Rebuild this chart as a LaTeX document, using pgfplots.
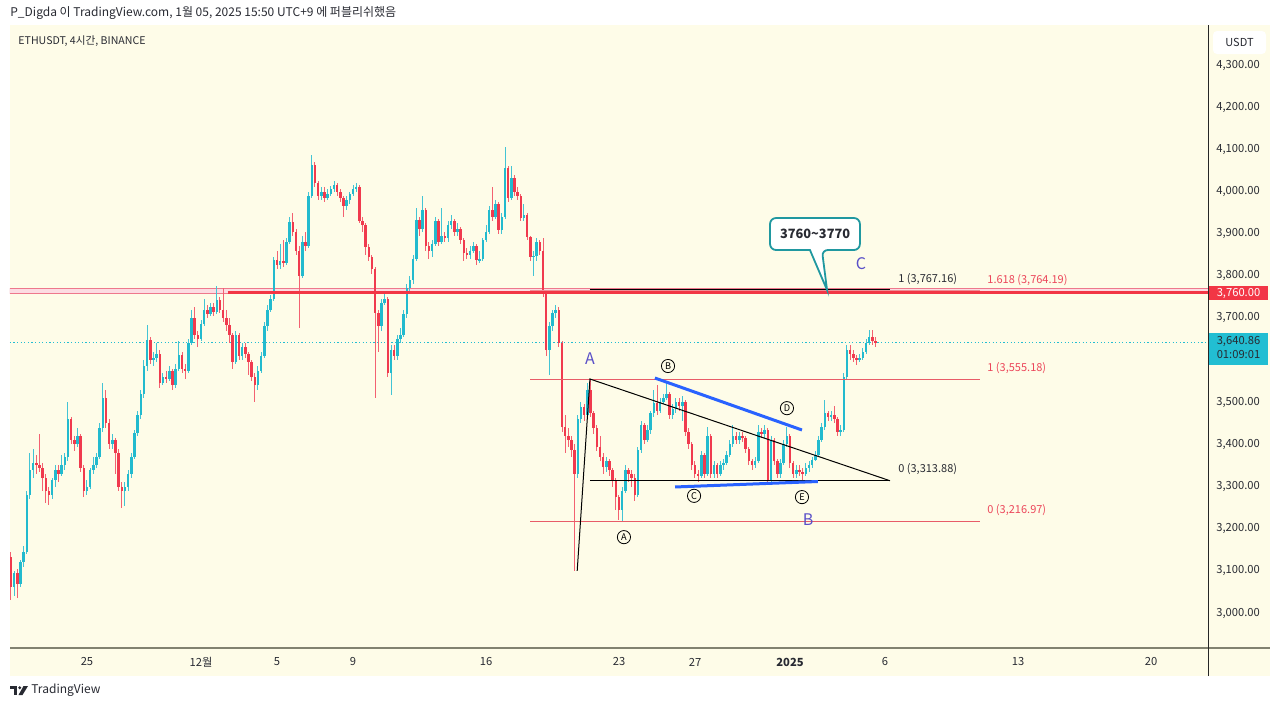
\documentclass[border=0pt]{standalone}
\usepackage{pgfplots}
\pgfplotsset{compat=1.18}
\usepackage{pgfplotstable}
\usepackage{fontspec}
\setmainfont{Noto Sans CJK KR}

\definecolor{bgy}{RGB}{254,252,232}
\definecolor{txt}{RGB}{40,42,50}
\definecolor{upc}{RGB}{34,186,206}
\definecolor{dnc}{RGB}{240,58,78}
\definecolor{redline}{RGB}{242,54,69}
\definecolor{bandline}{RGB}{238,120,140}
\definecolor{bandfill}{RGB}{252,220,226}
\definecolor{fibred}{RGB}{232,92,104}
\definecolor{fibtxt}{RGB}{236,70,90}
\definecolor{tvblue}{RGB}{41,98,255}
\definecolor{wave}{RGB}{90,80,200}
\definecolor{callout}{RGB}{32,152,160}
\definecolor{curbox}{RGB}{34,190,210}
\definecolor{axisgray}{RGB}{130,130,112}

% 4h candles: i = candle number (6 per day), open high low close
\pgfplotstableread{
i o h l c
0 3133 3145 3031 3062
1 3062 3100 3040 3095
2 3095 3105 3035 3070
3 3070 3125 3062 3120
4 3120 3160 3110 3145
5 3145 3290 3140 3280
6 3280 3380 3270 3340
7 3340 3390 3320 3355
8 3355 3375 3330 3350
9 3350 3425 3335 3345
10 3345 3355 3290 3320
11 3320 3330 3260 3290
12 3290 3300 3256 3280
13 3280 3320 3270 3315
14 3315 3350 3300 3340
15 3340 3350 3310 3330
16 3330 3375 3325 3350
17 3350 3380 3340 3370
18 3370 3500 3360 3460
19 3460 3465 3400 3410
20 3410 3420 3385 3400
21 3400 3440 3395 3420
22 3420 3425 3335 3345
23 3345 3350 3275 3290
24 3290 3315 3280 3300
25 3300 3345 3295 3340
26 3340 3370 3330 3350
27 3350 3380 3345 3370
28 3370 3450 3365 3440
29 3440 3545 3430 3510
30 3510 3530 3440 3450
31 3450 3460 3390 3400
32 3400 3425 3390 3410
33 3410 3415 3330 3380
34 3380 3390 3290 3300
35 3300 3310 3250 3290
36 3290 3310 3255 3300
37 3300 3340 3290 3330
38 3330 3380 3320 3370
39 3370 3435 3365 3427
40 3427 3480 3420 3470
41 3470 3530 3460 3520
42 3520 3600 3510 3585
43 3585 3683 3575 3648
44 3648 3655 3590 3600
45 3600 3620 3585 3605
46 3605 3640 3595 3615
47 3615 3625 3535 3545
48 3545 3570 3540 3560
49 3560 3575 3545 3555
50 3555 3585 3550 3575
51 3575 3580 3530 3541
52 3541 3590 3535 3580
53 3580 3645 3575 3612
54 3612 3620 3570 3580
55 3580 3590 3555 3575
56 3575 3650 3570 3640
57 3640 3720 3635 3700
58 3700 3725 3650 3660
59 3660 3670 3630 3650
60 3650 3695 3645 3685
61 3685 3745 3680 3719
62 3719 3730 3700 3710
63 3710 3735 3705 3725
64 3725 3735 3705 3715
65 3715 3775 3710 3743
66 3743 3750 3712 3720
67 3720 3770 3690 3700
68 3700 3720 3670 3683
69 3683 3700 3640 3660
70 3660 3665 3580 3595
71 3595 3670 3590 3660
72 3660 3665 3600 3610
73 3610 3640 3600 3630
74 3630 3640 3605 3615
75 3615 3620 3565 3595
76 3595 3600 3550 3560
77 3560 3570 3500 3540
78 3540 3585 3530 3575
79 3575 3620 3570 3610
80 3610 3690 3605 3680
81 3680 3730 3670 3720
82 3720 3755 3715 3745
83 3745 3845 3740 3837
84 3837 3860 3815 3825
85 3825 3875 3815 3835
86 3835 3885 3820 3830
87 3830 3890 3825 3880
88 3880 3940 3875 3928
89 3928 3950 3895 3905
90 3905 3910 3850 3860
91 3860 3870 3676 3800
92 3800 3895 3795 3880
93 3880 3905 3860 3870
94 3870 4000 3865 3990
95 3990 4087 3985 4063
96 4063 4070 4010 4020
97 4020 4025 3980 3990
98 3990 4010 3980 4000
99 4000 4010 3975 3985
100 3985 4005 3980 3995
101 3995 4012 3990 4005
102 4005 4025 4000 4015
103 4015 4020 3990 4000
104 4000 4005 3975 3985
105 3985 3990 3940 3965
106 3965 3990 3955 3980
107 3980 4000 3970 3995
108 3995 4015 3990 4005
109 4005 4020 3998 4010
110 4010 4015 3925 3930
111 3930 3940 3905 3920
112 3920 3925 3850 3868
113 3868 3875 3835 3845
114 3845 3850 3805 3815
115 3815 3820 3510 3712
116 3712 3720 3620 3680
117 3680 3745 3670 3735
118 3735 3760 3730 3745
119 3745 3750 3560 3569
120 3569 3635 3517 3625
121 3625 3635 3600 3610
122 3610 3660 3600 3650
123 3650 3675 3640 3660
124 3660 3720 3655 3710
125 3710 3780 3700 3770
126 3770 3800 3760 3790
127 3790 3850 3780 3840
128 3840 3960 3835 3932
129 3932 3940 3895 3910
130 3910 3990 3905 3956
131 3956 3960 3860 3870
132 3870 3880 3840 3860
133 3860 3885 3845 3875
134 3875 3940 3870 3930
135 3930 3935 3870 3880
136 3880 3960 3875 3895
137 3895 3905 3880 3890
138 3890 3930 3880 3920
139 3920 3945 3910 3930
140 3930 3935 3895 3905
141 3905 3925 3895 3910
142 3910 3915 3875 3885
143 3885 3890 3835 3854
144 3854 3865 3840 3850
145 3850 3870 3840 3860
146 3860 3880 3855 3870
147 3870 3875 3825 3837
148 3837 3860 3830 3840
149 3840 3890 3835 3885
150 3885 3920 3880 3905
151 3905 3965 3900 3956
152 3956 4010 3930 3940
153 3940 3980 3935 3970
154 3970 3975 3900 3908
155 3908 3950 3900 3940
156 3940 4105 3935 4056
157 4056 4060 3975 3985
158 3985 4060 3980 4032
159 4032 4040 3990 4000
160 4000 4010 3980 3990
161 3990 3995 3930 3937
162 3937 3970 3930 3945
163 3945 3950 3885 3892
164 3892 3895 3835 3845
165 3845 3860 3800 3848
166 3848 3890 3835 3880
167 3880 3885 3850 3860
168 3860 3890 3750 3759
169 3759 3765 3610 3624
170 3624 3690 3565 3680
171 3680 3720 3670 3712
172 3712 3730 3700 3720
173 3720 3725 3630 3640
174 3640 3645 3430 3441
175 3441 3470 3380 3420
176 3420 3440 3395 3410
177 3410 3420 3370 3387
178 3387 3400 3100 3330
179 3330 3470 3320 3460
180 3460 3500 3450 3489
181 3489 3495 3455 3470
182 3470 3545 3465 3530
183 3530 3555 3465 3474
184 3474 3480 3425 3440
185 3440 3445 3385 3394
186 3394 3420 3360 3370
187 3370 3380 3330 3346
188 3346 3370 3335 3360
189 3360 3365 3325 3340
190 3340 3345 3300 3316
191 3316 3320 3245 3275
192 3275 3280 3221 3245
193 3245 3300 3217 3290
194 3290 3350 3285 3339
195 3339 3345 3310 3330
196 3330 3340 3300 3320
197 3320 3330 3265 3280
198 3280 3395 3275 3387
199 3387 3455 3380 3446
200 3446 3450 3400 3410
201 3410 3445 3405 3434
202 3434 3480 3425 3474
203 3474 3530 3465 3498
204 3498 3541 3470 3480
205 3480 3510 3475 3500
206 3500 3520 3495 3510
207 3510 3545 3505 3520
208 3520 3525 3460 3470
209 3470 3495 3460 3485
210 3485 3510 3475 3500
211 3500 3510 3480 3490
212 3490 3515 3455 3500
213 3500 3505 3420 3430
214 3430 3440 3390 3400
215 3400 3405 3340 3350
216 3350 3360 3320 3330
217 3330 3340 3311 3325
218 3325 3385 3320 3375
219 3375 3380 3320 3330
220 3330 3441 3325 3420
221 3420 3425 3320 3330
222 3330 3360 3320 3350
223 3350 3355 3320 3330
224 3330 3360 3325 3350
225 3350 3365 3340 3355
226 3355 3385 3350 3375
227 3375 3410 3370 3400
228 3400 3445 3395 3420
229 3420 3430 3400 3410
230 3410 3430 3400 3420
231 3420 3430 3405 3415
232 3415 3420 3380 3390
233 3390 3395 3350 3360
234 3360 3365 3340 3350
235 3350 3370 3345 3360
236 3360 3445 3355 3430
237 3430 3440 3415 3425
238 3425 3445 3415 3435
239 3435 3440 3310 3316
240 3316 3420 3312 3410
241 3410 3415 3350 3360
242 3360 3365 3320 3330
243 3330 3365 3320 3355
244 3355 3410 3350 3400
245 3400 3441 3395 3420
246 3420 3425 3345 3356
247 3356 3360 3320 3330
248 3330 3350 3320 3340
249 3340 3350 3325 3335
250 3335 3345 3311 3330
251 3330 3355 3325 3345
252 3345 3360 3335 3350
253 3350 3370 3345 3363
254 3363 3385 3360 3375
255 3375 3420 3370 3410
256 3410 3450 3405 3441
257 3441 3505 3435 3474
258 3474 3480 3455 3465
259 3465 3480 3455 3470
260 3470 3490 3450 3460
261 3460 3465 3420 3430
262 3430 3445 3420 3434
263 3434 3570 3430 3560
264 3560 3635 3555 3624
265 3624 3635 3600 3615
266 3615 3625 3595 3605
267 3605 3612 3588 3600
268 3600 3615 3595 3605
269 3605 3628 3600 3620
270 3620 3650 3615 3640
271 3640 3671 3635 3655
272 3655 3672 3635 3645
273 3645 3655 3630 3640.86
}\candles

\pgfplotsset{
  candle/.style 2 args={draw=none, mark=none, forget plot,
    /pgfplots/error bars/y dir=both,
    /pgfplots/error bars/y explicit,
    /pgfplots/error bars/error mark=none,
    /pgfplots/error bars/error bar style={line width=#2, draw=#1, solid}},
  isup/.style={x filter/.expression={\thisrow{c}<\thisrow{o} ? nan : x}},
  isdown/.style={x filter/.expression={\thisrow{c}<\thisrow{o} ? x : nan}},
}
\tikzset{
  wavecircle/.style={circle, draw=black, line width=0.4pt, inner sep=0pt,
    minimum size=6.6pt, font=\fontsize{4.6}{4.6}\selectfont},
}

\newcommand\fs[1]{\fontsize{#1}{#1}\selectfont}

\begin{document}
\begin{tikzpicture}[x=0.5pt,y=0.5pt]
% canvas and chart background (1 unit = 1 px of the screenshot)
\fill[white] (0,0) rectangle (1280,709);
\fill[bgy] (10,33) rectangle (1270,684);

\node[anchor=west, font=\fs{6}, text=txt, inner sep=0pt] at (10,696)
  {P\_Digda 이 TradingView.com, 1월 05, 2025 15:50 UTC+9 에 퍼블리쉬했음};

\begin{axis}[
  at={(5pt,30.5pt)}, anchor=south west,
  scale only axis, width=599pt, height=311.5pt,
  xmin=-4.0526, xmax=59, ymin=2917, ymax=4395,
  axis line style={draw=none},
  tick style={draw=none},
  xtick={0,6,10,14,21,28,32,37,42,49,56},
  xticklabels={25,12월,5,9,16,23,27,\textbf{2025},6,13,20},
  xticklabel style={font=\fs{5.6}, text=txt, anchor=center, yshift=-7pt},
  ytick={3000,3100,...,4300},
  % 3,600.00 sits under the current-price box, as in the screenshot
  yticklabels={{3,000.00},{3,100.00},{3,200.00},{3,300.00},{3,400.00},{3,500.00},{},{3,700.00},{3,800.00},{3,900.00},{4,000.00},{4,100.00},{4,200.00},{4,300.00}},
  yticklabel pos=right,
  yticklabel style={font=\fs{5.6}, text=txt, anchor=west, inner sep=0pt, xshift=4pt},
]

% resistance band and 3760 line
\draw[bandline, line width=0.5pt, fill=bandfill] (axis cs:-4.06,3758) rectangle (axis cs:59,3769);

% current price
\addplot[curbox, line width=0.5pt, dash pattern=on 0.6pt off 1.2pt, forget plot]
  coordinates {(-4.06,3640.86) (59,3640.86)};

% candles: wicks, then bodies
\addplot[candle={upc!85}{0.5pt}, isup] table[x expr={-4+\thisrow{i}/6},
  y expr={(\thisrow{h}+\thisrow{l})/2}, y error expr={(\thisrow{h}-\thisrow{l})/2}] {\candles};
\addplot[candle={dnc!80}{0.5pt}, isdown] table[x expr={-4+\thisrow{i}/6},
  y expr={(\thisrow{h}+\thisrow{l})/2}, y error expr={(\thisrow{h}-\thisrow{l})/2}] {\candles};
\addplot[candle={upc}{1.3pt}, isup] table[x expr={-4+\thisrow{i}/6},
  y expr={(\thisrow{o}+\thisrow{c})/2}, y error expr={max(abs(\thisrow{c}-\thisrow{o})/2,1.4)}] {\candles};
\addplot[candle={dnc}{1.3pt}, isdown] table[x expr={-4+\thisrow{i}/6},
  y expr={(\thisrow{o}+\thisrow{c})/2}, y error expr={max(abs(\thisrow{c}-\thisrow{o})/2,1.4)}] {\candles};

% fib levels (red)
\addplot[fibred!70, line width=0.6pt, forget plot] coordinates {(23.32,3764.19) (47.0,3764.19)};
\addplot[fibred, line width=0.5pt, forget plot] coordinates {(23.32,3555.18) (47.0,3555.18)};
\addplot[fibred, line width=0.5pt, forget plot] coordinates {(23.32,3216.97) (47.0,3216.97)};
\addplot[redline, line width=1.7pt, forget plot] coordinates {(7.42,3760) (59,3760)};
% fib levels (black)
\addplot[black, line width=0.45pt, forget plot] coordinates {(26.47,3767.16) (42.26,3767.16)};
\addplot[black, line width=0.45pt, forget plot] coordinates {(26.47,3313.88) (42.26,3313.88)};
\addplot[black, line width=0.5pt, forget plot] coordinates {(25.8,3100) (26.47,3555.18) (42.26,3313.88)};
% triangle borders
\addplot[tvblue, line width=1.5pt, forget plot] coordinates {(29.89,3557.5) (37.63,3434.2)};
\addplot[tvblue, line width=1.5pt, forget plot] coordinates {(30.95,3299) (38.47,3312)};

\node[anchor=west, font=\fs{5.5}, text=fibtxt, inner sep=0pt] at (axis cs:47.37,3790) {1.618 (3,764.19)};
\node[anchor=west, font=\fs{5.5}, text=fibtxt, inner sep=0pt] at (axis cs:47.37,3581) {1 (3,555.18)};
\node[anchor=west, font=\fs{5.5}, text=fibtxt, inner sep=0pt] at (axis cs:47.37,3244) {0 (3,216.97)};
\node[anchor=west, font=\fs{5.5}, text=txt, inner sep=0pt] at (axis cs:42.68,3792) {1 (3,767.16)};
\node[anchor=west, font=\fs{5.5}, text=txt, inner sep=0pt] at (axis cs:42.68,3341.6) {0 (3,313.88)};

% wave labels
\node[wavecircle] at (axis cs:28.26,3180) {A};
\node[wavecircle] at (axis cs:30.58,3586) {B};
\node[wavecircle] at (axis cs:31.95,3278) {C};
\node[wavecircle] at (axis cs:36.84,3486) {D};
\node[wavecircle] at (axis cs:37.63,3275) {E};
\node[text=wave, font=\fs{8}] at (axis cs:26.47,3603) {A};
\node[text=wave, font=\fs{8}] at (axis cs:37.95,3221) {B};
\node[text=wave, font=\fs{8}] at (axis cs:40.74,3828) {C};

% callout
\draw[callout, line width=0.9pt, fill=white, rounded corners=3pt]
  (axis cs:35.95,3937.1) -- (axis cs:40.68,3937.1) -- (axis cs:40.68,3861.2)
  -- (axis cs:38.68,3861.2) [sharp corners] -- (axis cs:38.95,3766.3)
  -- (axis cs:38.05,3861.2) [rounded corners=3pt] -- (axis cs:35.95,3861.2) -- cycle;
\node[font=\bfseries\fs{6.4}, text=txt] at (axis cs:38.32,3899) {3760\textasciitilde 3770};

\node[anchor=west, font=\fs{5.3}, text=txt, inner sep=0pt] at (axis cs:-3.63,4357) {ETHUSDT, 4시간, BINANCE};
\end{axis}

% axis frame lines
\draw[axisgray, line width=1pt] (10,61) -- (1270,61);
\draw[black!85, line width=0.5pt] (1208,33) -- (1208,684);

% price-scale boxes
\fill[white, rounded corners=2pt] (1213,655) rectangle (1266,678);
\node[font=\fs{5.5}, text=txt, inner sep=0pt] at (1239.5,666.5) {USDT};
\fill[redline] (1209,409) rectangle (1268,423);
\node[font=\fs{5.6}, text=white, inner sep=0pt] at (1238.5,416) {3,760.00};
\fill[curbox] (1209,344) rectangle (1268,376);
\node[font=\fs{5.6}, text=txt, inner sep=0pt] at (1238.5,368) {3,640.86};
\node[font=\fs{5.6}, text=txt, inner sep=0pt] at (1238.5,354) {01:09:01};

% footer logo
\fill[txt] (10,23) rectangle (17,20);
\fill[txt] (13.5,23) rectangle (17,14);
\fill[txt] (19.8,21.3) circle (1.6);
\fill[txt] (23.5,23) -- (28,23) -- (22.5,14) -- (18.5,14) -- cycle;
\node[anchor=west, font=\fs{6}, text=txt, inner sep=0pt] at (31,18.5) {TradingView};
\end{tikzpicture}
\end{document}
